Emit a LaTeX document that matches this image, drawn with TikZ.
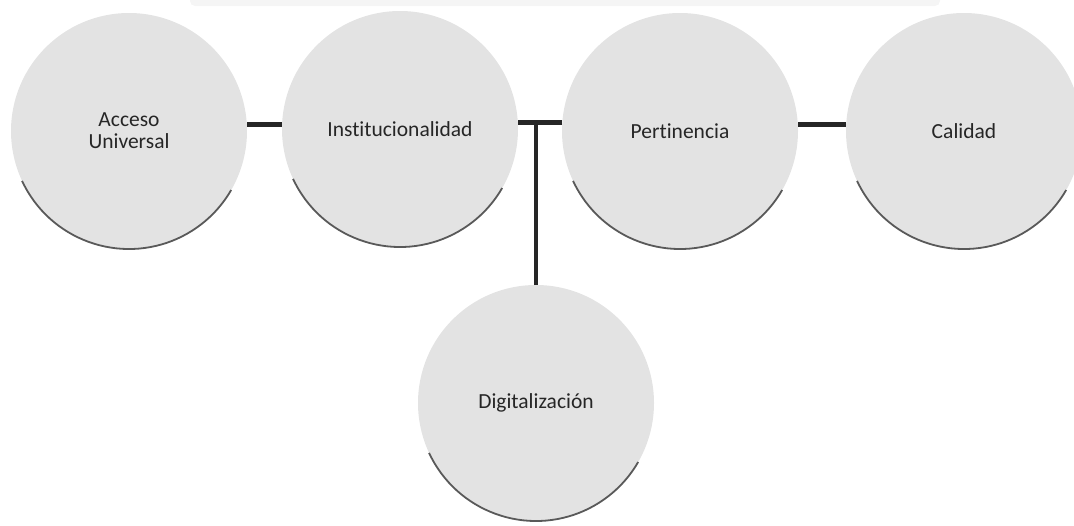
\documentclass[tikz,border=0pt]{standalone}
\usepackage{fontspec}
\setmainfont{Carlito}[Ligatures=NoCommon]
\usepackage{tikz}
\usetikzlibrary{positioning, calc}

\tikzset{
    circ/.style={circle, fill=gray!22, minimum size=236pt, inner sep=0pt, outer sep=0pt,
        align=center, font=\fontsize{21.5}{22}\selectfont, text=black!85},
    rim/.style={draw=black!65, line width=1.8pt},
    link/.style={draw=black!85, line width=5pt},
    drop/.style={draw=black!85, line width=3.5pt}
}

\begin{document}
\begin{tikzpicture}[x=1pt, y=-1pt]
    \useasboundingbox (0,0) rectangle (1074,525);

    % Faint band at the top
    \fill[gray!8, rounded corners=5pt] (190,-8) rectangle (940,6);

    % Circles
    \node[circ] (acc)  at (129,131) {Acceso\\Universal};
    \node[circ] (inst) at (400,129) {Institucionalidad};
    \node[circ] (pert) at (680,131) {Pertinencia};
    \node[circ] (cal)  at (964,131) {Calidad};
    \node[circ] (dig)  at (536,403) {Digitalización};

    % Darker lower rims
    \foreach \n in {acc,inst,pert,cal,dig}
        \draw[rim] (\n.205) arc[start angle=205, end angle=330, radius=118pt];

    % Connectors
    \draw[link] (acc.3) -- (inst.west |- acc.3);
    \draw[link] (inst.3) -- (pert.west |- inst.3);
    \draw[link] (pert.3) -- (cal.west |- pert.3);
    \draw[drop] (dig.north) -- (dig.north |- inst.3);
\end{tikzpicture}
\end{document}
